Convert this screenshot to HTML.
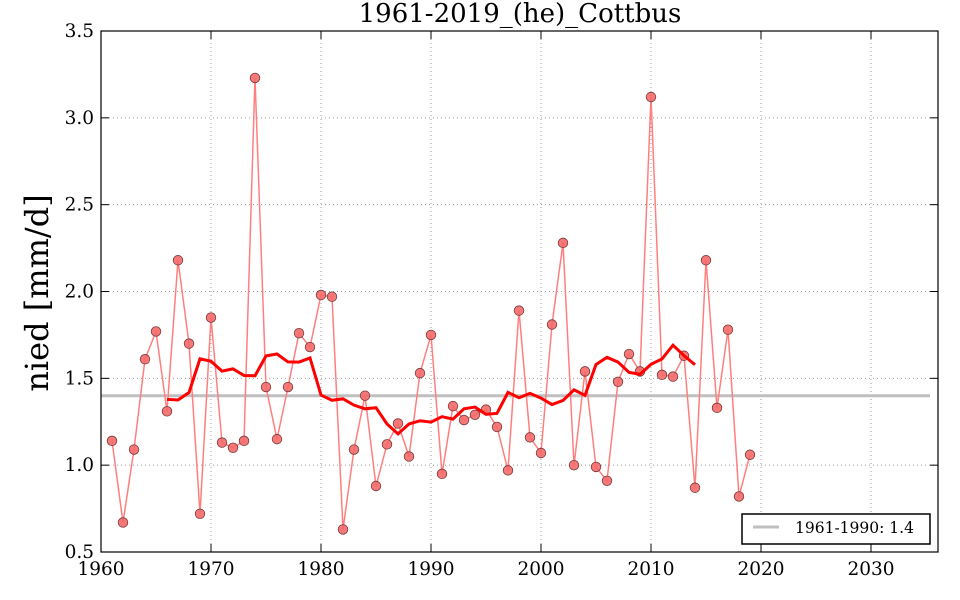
<!DOCTYPE html>
<html><head><meta charset="utf-8"><style>
html,body{margin:0;padding:0;background:#fff;}
svg{display:block;font-family:"DejaVu Serif","Liberation Serif",serif;}
</style></head><body>
<svg id="s" width="960" height="600" xmlns="http://www.w3.org/2000/svg"></svg>
<script>
const d=[1.14,0.67,1.09,1.61,1.77,1.31,2.18,1.70,0.72,1.85,1.13,1.10,1.14,3.23,1.45,1.15,1.45,1.76,1.68,1.98,1.97,0.63,1.09,1.40,0.88,1.12,1.24,1.05,1.53,1.75,0.95,1.34,1.26,1.29,1.32,1.22,0.97,1.89,1.16,1.07,1.81,2.28,1.00,1.54,0.99,0.91,1.48,1.64,1.54,3.12,1.52,1.51,1.63,0.87,2.18,1.33,1.78,0.82,1.06];
const L=101,R=938,T=31,B=552;
const X=y=>L+(y-1960)*11, Y=v=>B-(v-0.5)*(B-T)/3;
let h='';
for(let yr=1970;yr<=2030;yr+=10)h+=`<line x1="${X(yr)}" y1="${T}" x2="${X(yr)}" y2="${B}" stroke="#999" stroke-dasharray="1,3" stroke-width="1"/>`;
for(let v=1;v<=3;v+=0.5)h+=`<line x1="${L}" y1="${Y(v)}" x2="${R}" y2="${Y(v)}" stroke="#999" stroke-dasharray="1,3" stroke-width="1"/>`;
h+=`<line x1="${L}" y1="${Y(1.4)}" x2="${R-8}" y2="${Y(1.4)}" stroke="#bfbfbf" stroke-width="3"/>`;
let p=d.map((v,i)=>`${X(1961+i)},${Y(v)}`).join(' ');
h+=`<polyline points="${p}" fill="none" stroke="#ff7f7f" stroke-width="1.5"/>`;
d.forEach((v,i)=>{h+=`<circle cx="${X(1961+i)}" cy="${Y(v)}" r="4.8" fill="#f46a6a" stroke="#7a3a3a" stroke-width="0.8" fill-opacity="0.9"/>`;});
let m=[];for(let i=5;i<d.length-5;i++){let s=0;for(let k=i-5;k<=i+5;k++)s+=d[k];m.push(`${X(1961+i)},${Y(s/11)}`);}
h+=`<polyline points="${m.join(' ')}" fill="none" stroke="#ff0000" stroke-width="3"/>`;
h+=`<rect x="${L}" y="${T}" width="${R-L}" height="${B-T}" fill="none" stroke="#000" stroke-width="1.2"/>`;
for(let yr=1960;yr<=2030;yr+=10){h+=`<line x1="${X(yr)}" y1="${B}" x2="${X(yr)}" y2="${B-8}" stroke="#000"/><line x1="${X(yr)}" y1="${T}" x2="${X(yr)}" y2="${T+8}" stroke="#000"/><text x="${X(yr)}" y="${B+23}" font-size="18.5" text-anchor="middle">${yr}</text>`;}
for(let v=0.5;v<=3.5;v+=0.5){h+=`<line x1="${L}" y1="${Y(v)}" x2="${L+8}" y2="${Y(v)}" stroke="#000"/><line x1="${R}" y1="${Y(v)}" x2="${R-8}" y2="${Y(v)}" stroke="#000"/><text x="${L-7}" y="${Y(v)+6}" font-size="18.5" text-anchor="end">${v.toFixed(1)}</text>`;}
h+=`<text x="520" y="22" font-size="26" text-anchor="middle">1961-2019_(he)_Cottbus</text>`;
h+=`<text transform="translate(48,293) rotate(-90)" font-size="32" text-anchor="middle">nied [mm/d]</text>`;
h+=`<rect x="742" y="514" width="188" height="30" fill="#fff" stroke="#000" stroke-width="1.5"/><line x1="753" y1="527" x2="779" y2="527" stroke="#bfbfbf" stroke-width="3"/><text x="795" y="533" font-size="15.5">1961-1990: 1.4</text>`;
document.getElementById('s').innerHTML=h;
</script>
</body></html>
